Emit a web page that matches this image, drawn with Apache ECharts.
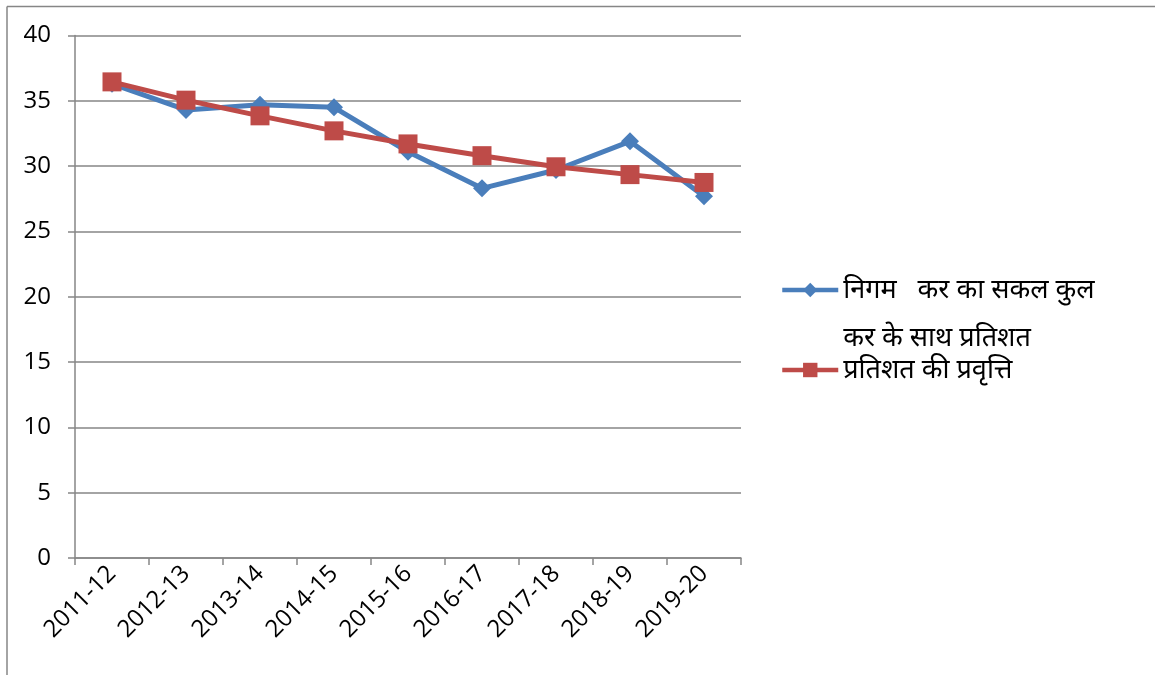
<!DOCTYPE html>
<html>
<head>
<meta charset="utf-8">
<script src="https://cdn.jsdelivr.net/npm/echarts@6/dist/echarts.min.js"></script>
<style>html,body{margin:0;padding:0;background:#fff}#c{width:1155px;height:675px}</style>
</head>
<body>
<div id="c"></div>
<script>
const categories = ['2011-12','2012-13','2013-14','2014-15','2015-16','2016-17','2017-18','2018-19','2019-20'];
const corporateTax = [36.3, 34.3, 34.7, 34.5, 31.1, 28.3, 29.7, 31.9, 27.7];
const trend = [36.45, 35.05, 33.85, 32.7, 31.7, 30.8, 29.95, 29.35, 28.75];
const seriesNames = ['निगम   कर का सकल कुल', 'प्रतिशत की प्रवृत्ति'];
const legendSecondLine = 'कर के साथ प्रतिशत';

const font = "'Open Sans', 'Noto Sans', sans-serif";
const chart = echarts.init(document.getElementById('c'));
const legendText = {fontFamily: font, fontSize: 27, color: '#000', lineHeight: 48};
chart.setOption({
  animation: false,
  backgroundColor: '#fff',
  textStyle: {fontFamily: font, fontSize: 24, color: '#000'},
  grid: {left: 75, right: 414, top: 35.5, bottom: 117, containLabel: false},
  graphic: [
    {type: 'line', shape: {x1: 7, y1: 6.5, x2: 1155, y2: 6.5}, style: {stroke: '#868686', lineWidth: 1.5}},
    {type: 'line', shape: {x1: 7, y1: 6.5, x2: 7, y2: 675}, style: {stroke: '#868686', lineWidth: 1.5}}
  ],
  legend: [
    {
      data: [seriesNames[0]],
      left: 780, top: 218, orient: 'vertical', padding: 0,
      itemWidth: 56, itemHeight: 18, itemGap: 0,
      lineStyle: {width: 4.5},
      formatter: n => '\n' + n + '\n' + legendSecondLine,
      textStyle: legendText
    },
    {
      data: [seriesNames[1]],
      left: 780, top: 346, orient: 'vertical', padding: 0,
      itemWidth: 56, itemHeight: 18, itemGap: 0,
      lineStyle: {width: 4.5},
      textStyle: legendText
    }
  ],
  xAxis: {
    type: 'category', data: categories, boundaryGap: true,
    axisLine: {lineStyle: {color: '#868686', width: 1.5}},
    axisTick: {show: true, length: 7, lineStyle: {color: '#868686', width: 1.5}},
    axisLabel: {rotate: 45, fontFamily: font, fontSize: 24, color: '#000', margin: 12, interval: 0}
  },
  yAxis: {
    type: 'value', min: 0, max: 40, interval: 5,
    axisLine: {show: true, lineStyle: {color: '#868686', width: 1.5}},
    axisTick: {show: true, length: 7, lineStyle: {color: '#868686', width: 1.5}},
    axisLabel: {fontFamily: font, fontSize: 24, color: '#000', margin: 24},
    splitLine: {lineStyle: {color: '#868686', width: 1.5}}
  },
  series: [
    {
      name: seriesNames[0], type: 'line', data: corporateTax,
      symbol: 'diamond', symbolSize: 18,
      lineStyle: {color: '#4A7EBB', width: 5},
      itemStyle: {color: '#4A7EBB'}
    },
    {
      name: seriesNames[1], type: 'line', data: trend,
      symbol: 'rect', symbolSize: 19,
      lineStyle: {color: '#BE4B48', width: 5},
      itemStyle: {color: '#BE4B48'}
    }
  ]
});
</script>
</body>
</html>
